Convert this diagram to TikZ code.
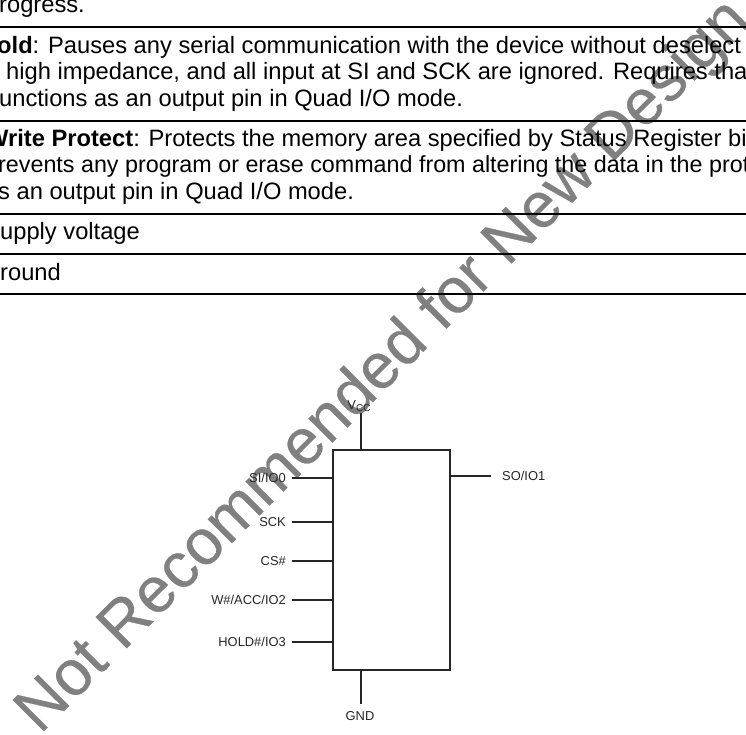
\documentclass[tikz,border=0pt]{standalone}
\usepackage{fontspec}
\setmainfont{Liberation Sans}
\newfontfamily\stampfont[FakeBold=0.4]{Liberation Sans}
\tikzset{
	rowtext/.style={anchor=base west,inner sep=0pt,font=\fontsize{23.7}{26}\selectfont},
	tablerule/.style={line width=1.8pt},
	pinline/.style={line width=1.2pt,black!85},
	pinlabel/.style={font=\fontsize{12.9}{15}\selectfont,text=black!85},
	stamp/.style={anchor=base west,font=\stampfont\fontsize{64}{70}\selectfont,text=black!50,rotate=45,inner sep=0pt}
}
\begin{document}
\begin{tikzpicture}[x=1pt,y=-1pt]
		\clip (0,0) rectangle (746,735);
		\node[stamp] (notrec) at (40,735) {Not Recommended for New Design};
		% table rows
		\node[rowtext] (rowa) at (-1,13) {rogress.};
		\draw[tablerule] (0,27)--(746,27);
		\node[rowtext] (rowb) at (-3,53.5) {\textbf{old}: Pauses any serial communication with the device without deselect};
		\node[rowtext] (rowc) at (6,80) {high impedance, and all input at SI and SCK are ignored. Requires tha};
		\node[rowtext] (rowd) at (-1,106.5) {unctions as an output pin in Quad I/O mode.};
		\draw[tablerule] (0,121)--(746,121);
		\node[rowtext] (rowe) at (-14,147) {\textbf{Write Protect}: Protects the memory area specified by Status Register bi};
		\node[rowtext,font=\fontsize{23.3}{26}\selectfont] (rowf) at (-2,173) {revents any program or erase command from altering the data in the prot};
		\node[rowtext] (rowg) at (-2,200) {s an output pin in Quad I/O mode.};
		\draw[tablerule] (0,214)--(746,214);
		\node[rowtext] (rowh) at (0,240) {upply voltage};
		\draw[tablerule] (0,254)--(746,254);
		\node[rowtext] (rowi) at (0,280) {round};
		\draw[tablerule] (0,294)--(746,294);
		% chip
		\node[draw,line width=1.2pt,black!85,minimum width=117pt,minimum height=220pt,inner sep=0pt] (chip) at (391.5,560) {};
		\node[pinlabel,anchor=east,inner sep=6pt] (si) at (292,478) {SI/IO0};
		\node[pinlabel,anchor=east,inner sep=6pt] (sck) at (292,522) {SCK};
		\node[pinlabel,anchor=east,inner sep=6pt] (cs) at (292,561) {CS\#};
		\node[pinlabel,anchor=east,inner sep=6pt] (wp) at (292,600) {W\#/ACC/IO2};
		\node[pinlabel,anchor=east,inner sep=6pt] (hold) at (292,642) {HOLD\#/IO3};
		\node[pinlabel,anchor=west,inner sep=11pt] (so) at (491,476) {SO/IO1};
		\node[pinlabel,inner sep=0pt] (vcc) at (359,406) {V{\fontsize{10}{12}\selectfont\raisebox{-2pt}{CC}}};
		\node[pinlabel,inner sep=0pt] (gnd) at (360,716) {GND};
		\coordinate (vcctop) at (361,413);
		\coordinate (gndend) at (361,704);
		\draw[pinline] (si.east)--(si.east -| chip.west);
		\draw[pinline] (sck.east)--(sck.east -| chip.west);
		\draw[pinline] (cs.east)--(cs.east -| chip.west);
		\draw[pinline] (wp.east)--(wp.east -| chip.west);
		\draw[pinline] (hold.east)--(hold.east -| chip.west);
		\draw[pinline] (so.west)--(so.west -| chip.east);
		\draw[pinline] (vcctop)--(vcctop |- chip.north);
		\draw[pinline] (gndend)--(gndend |- chip.south);
	\end{tikzpicture}
\end{document}
